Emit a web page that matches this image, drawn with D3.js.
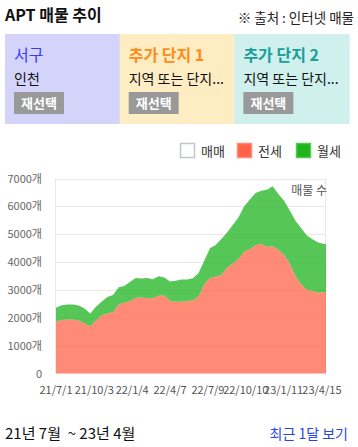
<!DOCTYPE html>
<html>
<head>
<meta charset="utf-8">
<script src="https://cdn.jsdelivr.net/npm/d3@7"></script>
<style>
  body { margin: 0; background: #fff; }
  svg { display: block; font-family: "Noto Sans CJK KR", "Noto Sans", sans-serif; }
</style>
</head>
<body>
<div id="chart"></div>
<script>
// Data (biweekly samples)
const dates = [
  "2021-07-01","2021-07-15","2021-07-29","2021-08-12","2021-08-26","2021-09-09",
  "2021-09-23","2021-10-07","2021-10-21","2021-11-04","2021-11-18","2021-12-02",
  "2021-12-16","2021-12-30","2022-01-13","2022-01-27","2022-02-10","2022-02-24",
  "2022-03-10","2022-03-24","2022-04-07","2022-04-21","2022-05-05","2022-05-19",
  "2022-06-02","2022-06-16","2022-06-30","2022-07-14","2022-07-28","2022-08-11",
  "2022-08-25","2022-09-08","2022-09-22","2022-10-06","2022-10-20","2022-11-03",
  "2022-11-17","2022-12-01","2022-12-15","2022-12-29","2023-01-12","2023-01-26",
  "2023-02-09","2023-02-23","2023-03-09","2023-03-23","2023-04-06","2023-04-20"
];
const maemae = new Array(48).fill(0);
const jeonse = [
  1860,1920,1940,1940,1900,1800,1700,1900,2080,2160,2200,2480,
  2540,2600,2720,2730,2700,2700,2790,2800,2600,2580,2580,2600,
  2620,2760,3200,3420,3480,3540,3800,3950,4100,4380,4460,4600,
  4660,4550,4570,4440,4250,3950,3500,3200,3010,2960,2900,2930
];
const total = [
  2360,2450,2480,2480,2440,2330,2150,2400,2580,2750,2820,3100,
  3140,3290,3430,3410,3430,3380,3490,3450,3300,3330,3370,3370,
  3420,3600,4050,4500,4610,4830,5060,5330,5600,6000,6250,6480,
  6560,6600,6720,6440,6200,5850,5480,5220,4950,4820,4700,4650
];
const wolse = total.map((t, i) => t - jeonse[i]);
const yTicks = [0, 1000, 2000, 3000, 4000, 5000, 6000, 7000];
const xTickLabels = ["21/7/1","21/10/3","22/1/4","22/4/7","22/7/9","22/10/10","23/1/11","23/4/15"];
const xTickDates = ["2021-07-01","2021-10-03","2022-01-04","2022-04-07","2022-07-09","2022-10-10","2023-01-11","2023-04-15"];

const panels = [
  {title: "서구", sub: "인천", bg: "#d4d4fa", color: "#3c3cf0", weight: 400},
  {title: "추가 단지 1", sub: "지역 또는 단지...", bg: "#feedc3", color: "#ff8c1a", weight: 700},
  {title: "추가 단지 2", sub: "지역 또는 단지...", bg: "#d0f0ee", color: "#1a9e9a", weight: 700}
];

const W = 358, H = 447;
const svg = d3.select("#chart").append("svg").attr("width", W).attr("height", H);

// --- Header ---
svg.append("text").attr("x", 5).attr("y", 21)
  .attr("font-size", 16).attr("font-weight", 700).attr("fill", "#111")
  .text("APT 매물 추이");
svg.append("text").attr("x", 354).attr("y", 23).attr("text-anchor", "end")
  .attr("font-size", 13.5).attr("fill", "#222")
  .text("※ 출처 : 인터넷 매물");

// --- Panels ---
const pw = 114.7;
const pg = svg.append("g").selectAll("g").data(panels).join("g")
  .attr("transform", (d, i) => `translate(${5 + i * pw},34)`);
pg.append("rect").attr("width", pw + 0.5).attr("height", 90).attr("fill", d => d.bg);
pg.append("text").attr("x", 9).attr("y", 27)
  .attr("font-size", 16).attr("font-weight", d => d.weight).attr("fill", d => d.color)
  .text(d => d.title);
pg.append("text").attr("x", 9).attr("y", 50)
  .attr("font-size", 14).attr("fill", "#111")
  .text(d => d.sub);
pg.append("rect").attr("x", 9).attr("y", 58).attr("width", 50).attr("height", 22).attr("fill", "#999");
pg.append("text").attr("x", 34).attr("y", 74).attr("text-anchor", "middle")
  .attr("font-size", 13).attr("font-weight", 700).attr("fill", "#fff")
  .text("재선택");

// --- Legend ---
const legendKeys = [
  {name: "매매", x: 180, fill: "#fff", stroke: "#c2c5cc"},
  {name: "전세", x: 237, fill: "#ff6347", stroke: "#ff8a75"},
  {name: "월세", x: 296, fill: "#1db41d", stroke: "#55c855"}
];
const lg = svg.append("g").selectAll("g").data(legendKeys).join("g")
  .attr("transform", d => `translate(${d.x},143)`);
lg.append("rect").attr("x", 0.5).attr("y", 0.5).attr("width", 14).attr("height", 14)
  .attr("fill", d => d.fill).attr("stroke", d => d.stroke).attr("stroke-width", 1.5);
lg.append("text").attr("x", 21).attr("y", 12.5)
  .attr("font-size", 13).attr("fill", "#333")
  .text(d => d.name);

// --- Chart ---
const parse = d3.timeParse("%Y-%m-%d");
const x = d3.scaleTime()
  .domain([parse("2021-07-01"), parse("2023-04-25")])
  .range([56, 326]);
const y = d3.scaleLinear().domain([0, 7000]).range([373.5, 178.5]);

// Grid
svg.append("g").selectAll("line").data(yTicks.slice(1)).join("line")
  .attr("x1", 56).attr("x2", 326)
  .attr("y1", d => Math.round(y(d)) + 0.5).attr("y2", d => Math.round(y(d)) + 0.5)
  .attr("stroke", "#e9e9e9");
svg.append("g").selectAll("line").data([56, 326]).join("line")
  .attr("x1", d => d - 0.5).attr("x2", d => d - 0.5)
  .attr("y1", y(7000)).attr("y2", y(0))
  .attr("stroke", "#e9e9e9");

// Stacked areas
const rows = dates.map((d, i) => ({date: parse(d), maemae: maemae[i], jeonse: jeonse[i], wolse: wolse[i]}));
const stack = d3.stack().keys(["maemae", "jeonse", "wolse"])(rows);
const colors = {maemae: "#ffffff", jeonse: "#ff6347", wolse: "#1db41d"};
const lastDate = x.domain()[1];
const area = d3.area()
  .x(d => x(d.data.date))
  .y0(d => y(d[0]))
  .y1(d => y(d[1]));
svg.append("g").selectAll("path").data(stack).join("path")
  .attr("d", s => area([...s, Object.assign([s[s.length - 1][0], s[s.length - 1][1]], {data: {date: lastDate}})]))
  .attr("fill", s => colors[s.key])
  .attr("fill-opacity", 0.75);

// Y axis labels
svg.append("g").selectAll("text").data(yTicks).join("text")
  .attr("x", 42).attr("y", d => y(d) + 4)
  .attr("text-anchor", "end").attr("font-size", 11).attr("fill", "#666")
  .text(d => d === 0 ? "0" : d + "개");

// X axis labels
svg.append("g").selectAll("text").data(xTickDates).join("text")
  .attr("x", d => x(parse(d))).attr("y", 394)
  .attr("text-anchor", "middle").attr("font-size", 11).attr("fill", "#555")
  .text((d, i) => xTickLabels[i]);

// Axis title
svg.append("text").attr("x", 327).attr("y", 195).attr("text-anchor", "end")
  .attr("font-size", 12).attr("fill", "#555")
  .text("매물 수");

// --- Footer ---
svg.append("text").attr("x", 5).attr("y", 439)
  .attr("font-size", 15).attr("fill", "#111")
  .attr("xml:space", "preserve")
  .text("21년 7월  ~ 23년 4월");
svg.append("text").attr("x", 348).attr("y", 439).attr("text-anchor", "end")
  .attr("font-size", 14).attr("fill", "#2a46e0")
  .text("최근 1달 보기");
</script>
</body>
</html>
